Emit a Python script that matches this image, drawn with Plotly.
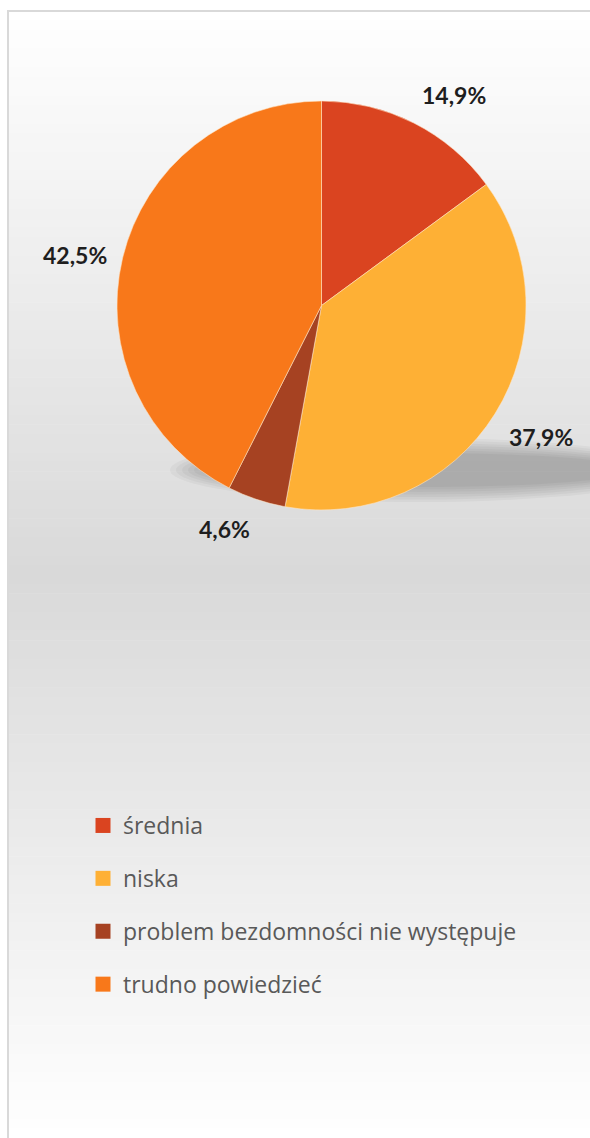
import math
import plotly.graph_objects as go

categories = ["średnia", "niska", "problem bezdomności nie występuje", "trudno powiedzieć"]
values = [14.9, 37.9, 4.6, 42.5]
colors = ["#DA4420", "#FEB035", "#A64222", "#F8781A"]

W, H = 590, 1138


def px(x):
    return x / W


def py(y):
    return 1 - y / H


cx, cy, R = 321.5, 305.5, 204.5

fig = go.Figure()

fig.add_trace(go.Pie(
    labels=categories, values=values, sort=False, direction="clockwise",
    marker=dict(colors=colors, line=dict(color="rgba(255,230,200,0.7)", width=0.8)),
    textinfo="none", hoverinfo="label+percent", showlegend=False,
    domain=dict(x=[px(cx - R), px(cx + R)], y=[py(cy + R), py(cy - R)]),
))

# legend entries as dummy traces so the rows can be spaced apart
for i, (name, col) in enumerate(zip(categories, colors)):
    fig.add_trace(go.Scatter(
        x=[None], y=[None], mode="markers", name=name, legendgroup=f"g{i}",
        marker=dict(symbol="square", size=15, color=col),
    ))

# data labels outside each slice
shapes = []
annotations = []
total = sum(values)
cum = 0
gap = 14
for v in values:
    mid = (cum + v / 2) / total * 2 * math.pi
    cum += v
    s, c = math.sin(mid), math.cos(mid)
    lx = cx + s * (R + gap)
    ly = cy - c * (R + gap)
    xa = "left" if s > 0 else "right"
    ya = "bottom" if c > 0.5 else ("top" if c < -0.5 else "middle")
    annotations.append(dict(
        x=px(lx), y=py(ly), xref="paper", yref="paper", showarrow=False,
        text=f"{v:.1f}".replace(".", ",") + "%", xanchor=xa, yanchor=ya,
        font=dict(family="Lato", size=23, color="#1e1e1e", weight="bold"),
    ))

# gradient background in thin bands
top, mid_y, bot = 11, 575, 1138
n = 120
for k in range(n):
    y0 = top + (bot - top) * k / n
    y1 = top + (bot - top) * (k + 1) / n
    ym = (y0 + y1) / 2
    if ym < mid_y:
        g = 255 - 38 * (ym - top) / (mid_y - top)
    else:
        g = 217 + 38 * (ym - mid_y) / (bot - mid_y)
    g = int(round(g))
    shapes.append(dict(type="rect", xref="paper", yref="paper", layer="below",
                       x0=px(8), x1=px(600), y0=py(y1) - 0.0005, y1=py(y0),
                       fillcolor=f"rgb({g},{g},{g})", line=dict(width=0)))

# soft shadow under the pie
ex, ey = 420, 470
for k in range(7):
    rx = 250 - k * 6
    ry = 32 - k * 2.5
    shapes.append(dict(type="circle", xref="paper", yref="paper", layer="below",
                       x0=px(ex - rx), x1=px(ex + rx),
                       y0=py(ey + ry), y1=py(ey - ry),
                       fillcolor="rgba(0,0,0,0.034)", line=dict(width=0)))

# outer frame
shapes.append(dict(type="rect", xref="paper", yref="paper", layer="below",
                   x0=px(8), x1=px(600), y0=py(1150), y1=py(11),
                   fillcolor="rgba(0,0,0,0)", line=dict(color="#d9d9d9", width=2)))

fig.update_layout(
    width=W, height=H,
    margin=dict(l=0, r=0, t=0, b=0),
    paper_bgcolor="white", plot_bgcolor="rgba(0,0,0,0)",
    xaxis=dict(visible=False), yaxis=dict(visible=False),
    shapes=shapes, annotations=annotations,
    showlegend=True,
    legend=dict(x=px(83), y=py(804), xanchor="left", yanchor="top",
                bgcolor="rgba(0,0,0,0)", tracegroupgap=20, itemwidth=30,
                font=dict(family="Open Sans", size=23, color="#595959")),
)

fig.write_html("out.html", config={"displayModeBar": False},
               post_script="document.body.style.margin='0';document.body.style.overflow='hidden';")
